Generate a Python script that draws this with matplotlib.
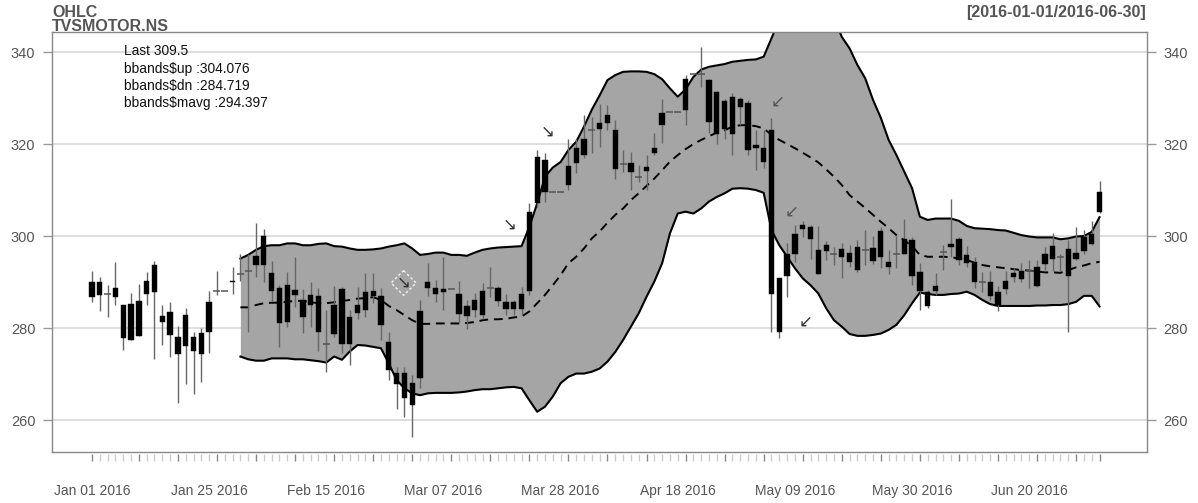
import numpy as np
import pandas as pd
import matplotlib
matplotlib.use("Agg")
import matplotlib.pyplot as plt
from matplotlib.patches import Polygon

plt.rcParams['font.family'] = ['Liberation Sans', 'DejaVu Sans']

# ---------------- data ----------------
dates = pd.bdate_range('2016-01-01', '2016-06-30')  # 130 trading rows

opens = [286.8, 290.1, 287.4, 286.7, 284.9, 277.4, 285.9, 287.5, 287.8, 282.7,
         283.4, 278.1, 276.2, 278.1, 274.3, 279.1, 288.0, 288.0, 290.0, 291.7,
         292.3, 293.7, 293.6, 291.9, 288.6, 281.4, 288.3, 286.1, 285.0, 287.0,
         276.5, 278.8, 288.5, 276.5, 283.3, 283.9, 287.0, 287.0, 277.0, 270.2,
         270.2, 263.3, 269.1, 288.6, 288.6, 287.8, 288.4, 287.5, 282.6, 283.9,
         288.1, 288.8, 288.6, 285.7, 284.1, 284.1, 288.1, 307.1, 316.5, 309.6,
         309.6, 311.1, 315.8, 317.6, 323.0, 323.2, 324.5, 323.0, 315.6, 315.9,
         312.9, 314.2, 318.1, 324.1, 327.0, 327.0, 327.5, 335.2, 335.2, 333.9,
         322.2, 329.4, 322.2, 329.9, 329.0, 319.1, 319.1, 323.0, 290.8, 291.3,
         296.2, 301.6, 302.0, 297.0, 296.8, 296.1, 295.5, 296.4, 292.7, 297.0,
         297.5, 295.4, 294.4, 296.1, 296.2, 299.1, 292.2, 287.9, 288.1, 296.6,
         297.7, 299.3, 294.2, 294.4, 290.1, 290.0, 287.9, 288.4, 291.0, 292.3,
         292.5, 289.1, 293.9, 295.1, 295.5, 297.1, 295.1, 296.8, 298.3, 305.3]

highs = [292.5, 291.2, 289.3, 294.4, 285.0, 287.7, 289.5, 292.1, 294.6, 284.9,
         285.6, 280.4, 284.3, 279.2, 280.1, 288.1, 292.5, 288.0, 293.3, 296.1,
         296.0, 302.9, 301.5, 294.6, 289.3, 292.2, 295.4, 288.4, 290.1, 288.6,
         283.9, 289.1, 288.9, 283.9, 289.0, 292.0, 292.0, 288.8, 279.2, 271.6,
         271.6, 269.8, 286.1, 294.2, 290.4, 295.4, 288.4, 290.2, 286.1, 287.7,
         289.7, 293.2, 289.1, 287.5, 286.1, 289.0, 307.1, 318.7, 318.0, 309.6,
         309.6, 321.0, 321.2, 326.3, 325.8, 328.7, 328.5, 325.2, 318.7, 318.3,
         315.4, 317.6, 322.5, 329.9, 327.0, 327.0, 335.0, 335.2, 341.0, 334.2,
         331.6, 329.9, 331.2, 330.3, 329.6, 323.0, 323.0, 325.6, 290.8, 298.4,
         302.4, 303.3, 302.4, 302.2, 299.0, 297.7, 298.4, 298.0, 299.1, 301.3,
         300.0, 301.9, 297.0, 300.0, 303.6, 299.9, 294.1, 288.3, 292.0, 298.0,
         308.0, 299.9, 297.8, 295.5, 292.2, 292.5, 289.1, 292.3, 293.0, 294.2,
         294.8, 294.9, 297.7, 300.6, 296.2, 299.1, 301.9, 301.3, 303.3, 312.0]

lows = [285.6, 283.7, 282.3, 285.1, 275.2, 277.4, 278.3, 285.0, 273.2, 276.3,
        273.6, 263.6, 267.8, 265.6, 268.2, 274.6, 287.2, 288.0, 287.5, 290.3,
        279.2, 291.2, 290.1, 285.9, 275.9, 280.3, 284.6, 279.0, 280.3, 274.9,
        270.4, 278.0, 274.6, 272.0, 282.0, 282.5, 285.4, 277.4, 268.7, 262.5,
        260.7, 256.2, 266.9, 287.0, 285.7, 283.9, 288.4, 281.4, 279.7, 282.5,
        282.0, 286.8, 284.8, 282.8, 282.8, 282.8, 287.2, 306.4, 307.5, 309.6,
        309.6, 310.0, 313.6, 316.9, 318.0, 319.4, 323.0, 312.5, 314.0, 310.1,
        311.8, 310.1, 317.6, 320.3, 327.0, 327.0, 324.1, 335.2, 332.5, 322.3,
        320.1, 321.0, 317.6, 324.1, 317.6, 314.4, 314.7, 279.2, 277.8, 286.8,
        294.4, 299.9, 295.1, 291.7, 294.9, 293.7, 290.8, 293.2, 292.2, 293.7,
        293.9, 293.0, 291.7, 293.0, 296.2, 289.4, 283.9, 284.3, 287.2, 292.6,
        295.5, 293.7, 293.3, 288.8, 287.9, 286.0, 283.8, 287.5, 290.1, 290.0,
        288.6, 289.0, 292.6, 292.3, 292.3, 279.2, 294.8, 296.0, 298.0, 305.0]

closes = [290.1, 287.2, 287.4, 288.6, 277.8, 285.2, 278.3, 290.3, 293.8, 281.4,
          278.5, 274.3, 282.8, 275.1, 279.0, 285.7, 288.0, 288.0, 290.3, 291.7,
          292.3, 295.7, 300.1, 288.0, 281.2, 289.4, 287.2, 282.3, 287.2, 279.2,
          276.5, 285.0, 276.5, 282.3, 285.0, 287.9, 288.1, 280.7, 270.9, 267.8,
          264.7, 268.1, 283.8, 289.9, 287.4, 288.4, 288.4, 283.0, 284.8, 286.2,
          282.8, 288.8, 285.9, 284.1, 285.7, 287.5, 305.3, 317.2, 309.6, 309.6,
          309.6, 315.2, 319.1, 321.2, 323.0, 324.5, 326.3, 314.6, 315.6, 314.0,
          312.9, 315.1, 319.1, 326.7, 327.0, 327.0, 334.1, 335.2, 335.2, 324.8,
          331.4, 323.2, 330.3, 328.0, 318.8, 319.8, 316.2, 287.5, 279.2, 296.2,
          300.4, 302.5, 299.3, 291.7, 298.0, 296.1, 297.2, 294.4, 297.7, 297.0,
          294.6, 301.2, 293.3, 296.1, 299.3, 291.3, 288.1, 284.8, 289.1, 296.6,
          298.3, 294.9, 295.9, 289.9, 290.1, 286.9, 285.0, 290.3, 292.0, 290.6,
          292.5, 293.3, 296.2, 297.9, 295.5, 291.3, 296.4, 299.7, 300.4, 309.5]

nan = np.nan
bb_up = [nan] * 19 + [
    295.1, 295.9, 297.0, 297.8, 298.0, 298.0, 298.4, 298.4, 298.0, 298.0,
    298.3, 298.4, 297.8, 297.7, 297.3, 297.0, 297.0, 297.1, 297.3, 297.7,
    298.0, 298.4, 297.3, 295.9, 296.1, 296.4, 296.4, 295.9, 295.9, 295.7,
    296.4, 297.0, 297.3, 297.5, 297.6, 297.7, 297.8, 302.0, 307.1, 312.9,
    314.9, 316.1, 318.7, 320.5, 323.8, 327.5, 330.6, 333.9, 335.0, 335.7,
    335.8, 335.8, 335.7, 335.2, 334.1, 332.1, 330.3, 331.9, 334.6, 336.2,
    336.8, 337.1, 337.4, 337.9, 338.1, 338.3, 338.4, 339.0, 343.0, 347.0,
    349.5, 351.0, 352.0, 352.3, 352.0, 350.5, 347.5, 343.3, 340.8, 337.2,
    334.3, 329.6, 325.7, 320.9, 317.6, 314.0, 310.4, 304.2, 303.5, 303.8,
    303.8, 303.8, 303.3, 302.2, 301.7, 301.6, 301.5, 301.3, 301.2, 300.7,
    300.2, 299.9, 299.7, 299.7, 299.7, 299.3, 299.5, 299.9, 300.0, 300.9,
    304.1]

bb_dn = [nan] * 19 + [
    273.8, 273.2, 272.9, 272.9, 273.4, 273.4, 273.4, 273.2, 273.2, 273.0,
    272.8, 272.5, 273.8, 273.1, 274.9, 276.3, 276.2, 275.9, 275.6, 272.3,
    268.7, 266.9, 265.8, 265.4, 265.8, 265.9, 265.9, 265.9, 266.0, 266.2,
    266.5, 266.7, 266.7, 266.9, 267.1, 267.2, 266.9, 264.3, 261.8, 262.9,
    265.1, 268.0, 269.4, 270.1, 270.1, 270.5, 271.2, 272.7, 274.8, 277.4,
    280.3, 283.2, 286.8, 290.1, 294.1, 300.6, 304.9, 305.3, 304.9, 306.0,
    307.5, 308.5, 309.3, 310.3, 310.4, 310.3, 310.0, 309.4, 301.3, 298.0,
    295.5, 293.0, 290.8, 289.3, 287.5, 284.3, 281.7, 280.3, 278.7, 278.3,
    278.3, 278.5, 278.8, 279.6, 280.7, 282.8, 285.4, 287.7, 287.4, 287.2,
    287.2, 287.4, 287.5, 287.9, 287.2, 286.1, 285.2, 284.8, 284.8, 284.8,
    284.8, 284.8, 284.9, 284.9, 285.0, 285.0, 285.2, 285.7, 287.0, 287.0,
    284.7]

bb_mavg = [nan] * 19 + [
    284.5, 284.5, 285.0, 285.4, 285.5, 285.5, 285.7, 285.9, 285.9, 285.6,
    285.4, 285.4, 285.6, 285.9, 286.1, 286.4, 286.5, 286.7, 286.1, 284.8,
    283.9, 282.8, 281.7, 280.9, 280.9, 281.0, 281.0, 281.0, 281.0, 281.1,
    281.3, 281.7, 281.9, 281.9, 282.0, 282.3, 282.5, 283.6, 285.4, 287.2,
    289.3, 291.5, 294.1, 295.5, 297.3, 299.5, 301.0, 302.9, 304.6, 306.0,
    307.8, 309.3, 310.9, 312.5, 314.3, 316.2, 317.6, 318.9, 320.0, 320.9,
    321.7, 322.5, 323.0, 323.8, 324.1, 324.1, 323.9, 323.4, 322.0, 320.9,
    320.0, 319.1, 318.1, 317.1, 316.0, 314.5, 312.9, 311.1, 308.9, 307.5,
    306.1, 304.6, 303.1, 301.7, 300.2, 299.1, 297.8, 295.9, 295.5, 295.5,
    295.5, 295.4, 295.1, 294.8, 294.2, 293.7, 293.4, 293.2, 293.0, 292.8,
    292.6, 292.5, 292.3, 292.1, 292.1, 292.0, 292.6, 293.2, 293.6, 294.1,
    294.4]

tick_labels = ["Jan 01 2016", "Jan 25 2016", "Feb 15 2016", "Mar 07 2016",
               "Mar 28 2016", "Apr 18 2016", "May 09 2016", "May 30 2016",
               "Jun 20 2016"]
label_every = 15
y_ticks = [260, 280, 300, 320, 340]

legend_lines = ["Last 309.5", "bbands$up :304.076", "bbands$dn :284.719",
                "bbands$mavg :294.397"]
title_left = ["OHLC", "TVSMOTOR.NS"]
title_right = "[2016-01-01/2016-06-30]"

# cursor-like arrow marks seen on the picture (bar index, price, glyph, colour)
cursor_marks = [(58.4, 322.6, "\u2198", "#333333"),
                (53.5, 302.4, "\u2198", "#333333"),
                (87.8, 329.3, "\u2199", "#555555"),
                (89.6, 305.4, "\u2199", "#555555"),
                (91.3, 281.3, "\u2199", "#333333"),
                (39.9, 289.8, "\u2198", "#333333")]

# ---------------- figure ----------------
W, H = 1198, 503
fig = plt.figure(figsize=(W / 100, H / 100), dpi=100)
ax_l, ax_r, ax_t, ax_b = 52, 1146.7, 32.3, 452.3
ax = fig.add_axes([ax_l / W, 1 - ax_b / H, (ax_r - ax_l) / W, (ax_b - ax_t) / H])

o = np.array(opens); h = np.array(highs); l = np.array(lows); c = np.array(closes)
up = np.array(bb_up); dn = np.array(bb_dn); mv = np.array(bb_mavg)
x = np.arange(len(dates))

ax.set_xlim(-5.12, 135.04)
ax.set_ylim(252.98, 344.3)

# grid
for yt in y_ticks:
    ax.axhline(yt, color='#dedede', lw=1.4, zorder=0)

# Bollinger band
valid = ~np.isnan(up)
ax.fill_between(x[valid], dn[valid], up[valid], color='#a5a5a5', lw=0, zorder=1)
ax.plot(x[valid], up[valid], color='black', lw=1.5, zorder=2)
ax.plot(x[valid], dn[valid], color='black', lw=1.5, zorder=2)
ax.plot(x[valid], mv[valid], color='black', lw=1.4, ls=(0, (4.5, 3)), zorder=2)

# candles
ax.vlines(x, l, h, color='#666666', lw=1.0, zorder=3)
body_lo = np.minimum(o, c)
body_h = np.abs(c - o)
solid = body_h >= 0.05
ax.bar(x[solid], body_h[solid], bottom=body_lo[solid], width=0.68,
       color='black', edgecolor='black', lw=0.3, zorder=4)
ax.hlines(c[~solid], x[~solid] - 0.45, x[~solid] + 0.45, color='#555555',
          lw=1.1, zorder=4)

# cursor marks
for (bx, by, g, col) in cursor_marks:
    ax.text(bx, by, g, fontsize=12, color=col, ha='center', va='center',
            family='DejaVu Sans', zorder=6)
dx, dy = 1.6, 2.7
bx, by = cursor_marks[-1][0], cursor_marks[-1][1]
ax.add_patch(Polygon([(bx, by + dy), (bx + dx, by), (bx, by - dy), (bx - dx, by)],
                     closed=True, fill=False, edgecolor='#f2f2f2', lw=1.0,
                     ls=(0, (2, 1.5)), zorder=5))

# frame
for s in ax.spines.values():
    s.set_color('#888888')
    s.set_linewidth(1.0)

# y axis both sides
ax.set_yticks(y_ticks)
ax.set_yticklabels([str(v) for v in y_ticks])
ax.tick_params(axis='y', which='major', left=True, right=True, labelleft=True,
               labelright=True, length=6.5, width=1.0, color='#999999',
               labelcolor='#555555', labelsize=10.5, pad=5.5)

# x axis: labels every 15 bars, tick marks every bar
pos = x[::label_every]
ax.set_xticks(pos)
ax.set_xticklabels(tick_labels)
ax.tick_params(axis='x', length=0, pad=23, labelsize=10, labelcolor='#555555')
trans = ax.get_xaxis_transform()
dark = np.zeros(len(x), dtype=bool)
dark[0] = True
dark[1::5] = True
dark[1] = False
dark[-1] = True
ax.vlines(x[~dark], -0.003, -0.021, transform=trans, color='#cccccc', lw=1.0,
          clip_on=False)
ax.vlines(x[dark], -0.003, -0.021, transform=trans, color='#888888', lw=1.0,
          clip_on=False)

# titles
fig.text(52 / W, 1 - 16.7 / H, title_left[0], ha='left', va='baseline',
         fontsize=11.5, fontweight='bold', color='#555555')
fig.text(52 / W, 1 - 31 / H, title_left[1], ha='left', va='baseline',
         fontsize=11.5, fontweight='bold', color='#555555')
fig.text(1146 / W, 1 - 16.7 / H, title_right, ha='right', va='baseline',
         fontsize=11.5, fontweight='bold', color='#555555')

# legend text
for t, yy in zip(legend_lines, [55, 72.5, 90, 106.5]):
    fig.text(124 / W, 1 - yy / H, t, ha='left', va='baseline', fontsize=9.9,
             color='#111111')

fig.savefig('out.png', dpi=100, facecolor='white')
